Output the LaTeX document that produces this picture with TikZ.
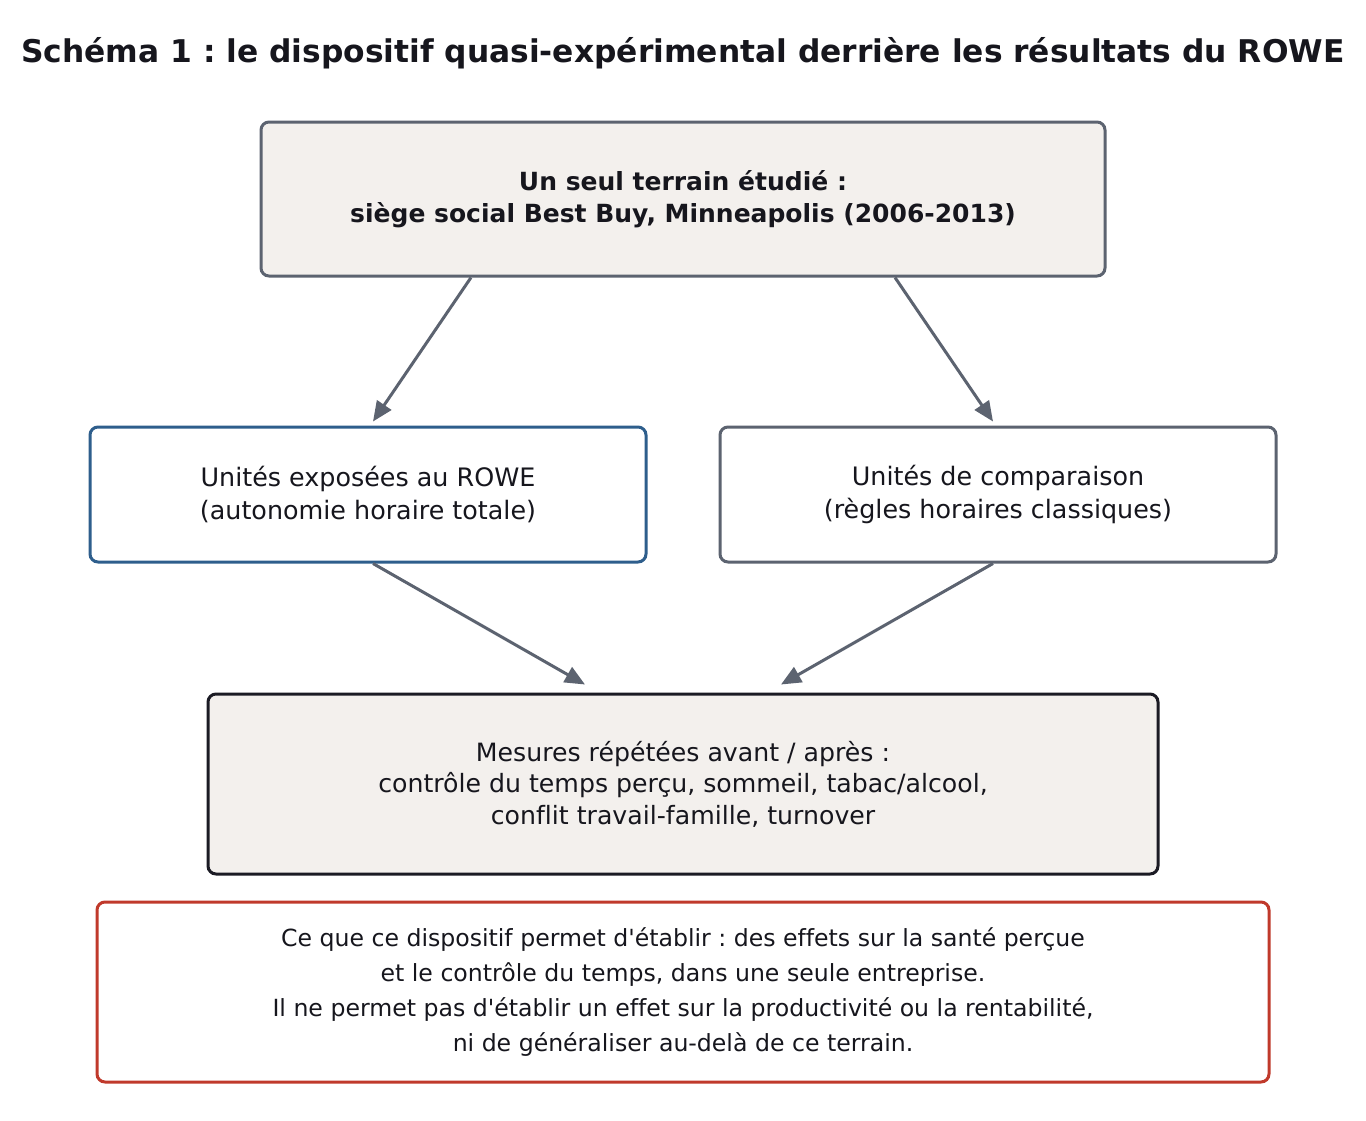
\documentclass[tikz,border=0pt]{standalone}
\usepackage{fontspec}
\setmainfont{DejaVu Sans}[Ligatures={TeXOff,NoCommon}]
\usetikzlibrary{arrows.meta}
\frenchspacing
\definecolor{txt}{HTML}{16161D}
\definecolor{grayb}{HTML}{5C6370}
\definecolor{blueb}{HTML}{2E5E8C}
\definecolor{redb}{HTML}{C0392B}
\definecolor{darkb}{HTML}{1B1B24}
\definecolor{beige}{HTML}{F3F0ED}
\tikzset{
  box/.style={draw, line width=3pt, rounded corners=8pt, align=center, text=txt, inner sep=0pt},
  arr/.style={draw=grayb, line width=3pt, -{Triangle[length=20pt,width=17pt]}}
}
\begin{document}
\begin{tikzpicture}[x=1pt,y=-1pt]
\useasboundingbox[fill=white] (0,0) rectangle (1366,1120);
\node[text=txt, font=\fontsize{31.3}{36}\selectfont\bfseries] (title) at (683,53) {Schéma 1 : le dispositif quasi-expérimental derrière les résultats du ROWE};
\node[box, draw=grayb, fill=beige, minimum width=844pt, minimum height=154pt, font=\fontsize{25}{32}\selectfont\bfseries] (top) at (683,199) {Un seul terrain étudié :\\siège social Best Buy, Minneapolis (2006-2013)};
\node[box, draw=blueb, fill=white, minimum width=556pt, minimum height=135pt, font=\fontsize{25.4}{33}\selectfont] (left) at (368,494.5) {Unités exposées au ROWE\\(autonomie horaire totale)};
\node[box, draw=grayb, fill=white, minimum width=556pt, minimum height=135pt, font=\fontsize{25.4}{33}\selectfont] (right) at (998,494.5) {Unités de comparaison\\(règles horaires classiques)};
\node[box, draw=darkb, fill=beige, minimum width=950pt, minimum height=180pt, font=\fontsize{25.2}{31.5}\selectfont] (meas) at (683,784) {Mesures répétées avant / après :\\contrôle du temps perçu, sommeil, tabac/alcool,\\conflit travail-famille, turnover};
\node[box, draw=redb, fill=white, minimum width=1172pt, minimum height=180pt, font=\fontsize{23.6}{35.3}\selectfont] (note) at (683,992) {Ce que ce dispositif permet d'établir : des effets sur la santé perçue\\et le contrôle du temps, dans une seule entreprise.\\Il ne permet pas d'établir un effet sur la productivité ou la rentabilité,\\ni de généraliser au-delà de ce terrain.};
\draw[arr] ([xshift=-212pt]top.south) -- ([xshift=5pt,yshift=4pt]left.north);
\draw[arr] ([xshift=212pt]top.south) -- ([xshift=-5pt,yshift=4pt]right.north);
\draw[arr] ([xshift=5pt]left.south) -- ([xshift=-98pt,yshift=8pt]meas.north);
\draw[arr] ([xshift=-5pt]right.south) -- ([xshift=98pt,yshift=8pt]meas.north);
\end{tikzpicture}
\end{document}
